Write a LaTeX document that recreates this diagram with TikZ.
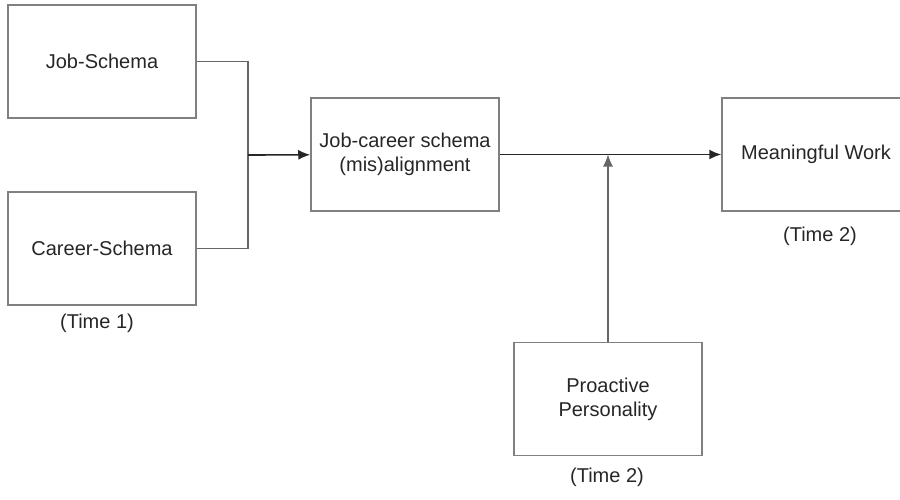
\documentclass[tikz,border=0pt]{standalone}
\usepackage{fontspec}
\setmainfont{Liberation Sans}
\usetikzlibrary{arrows.meta}

\begin{document}
\begin{tikzpicture}[x=0.5pt,y=-0.5pt]
	\tikzset{box/.style={draw=black!50, line width=0.75pt, minimum width=94pt, minimum height=56.5pt, align=center, text=black!85, font=\fontsize{10}{12}\selectfont}}
	\tikzset{note/.style={text=black!85, font=\fontsize{10}{12}\selectfont}}
	\tikzset{link/.style={draw=black!60, line width=0.55pt}}
	\tikzset{arr/.style={draw=black!85, line width=0.8pt, -{Latex[length=6pt,width=5pt]}}}
	\useasboundingbox (0,0) rectangle (900,499);
	% time 1
	\node[box] (job) at (102,61.5) {Job-Schema};
	\node[box] (career) at (102,248.5) {Career-Schema};
	\node[note] (t1) at (97,323) {(Time 1)};
	\coordinate (join) at (248,155);
	% mediator and outcome
	\node[box] (align) at (405,154.5) {Job-career schema\\(mis)alignment};
	\node[box] (meaning) at (816,154.5) {Meaningful Work};
	\node[note] (t2a) at (820,236) {(Time 2)};
	% moderator
	\node[box] (proactive) at (608,399) {Proactive\\Personality};
	\node[note] (t2b) at (607,477) {(Time 2)};
	\draw[link] (job.east) -| (join);
	\draw[link] (career.east) -| (join);
	\draw[arr] (join) -- (align);
	\draw[arr] (align) -- (meaning);
	\draw[arr, draw=black!60, line width=0.55pt] (proactive.north) -- (proactive.north |- align.east);
\end{tikzpicture}
\end{document}
